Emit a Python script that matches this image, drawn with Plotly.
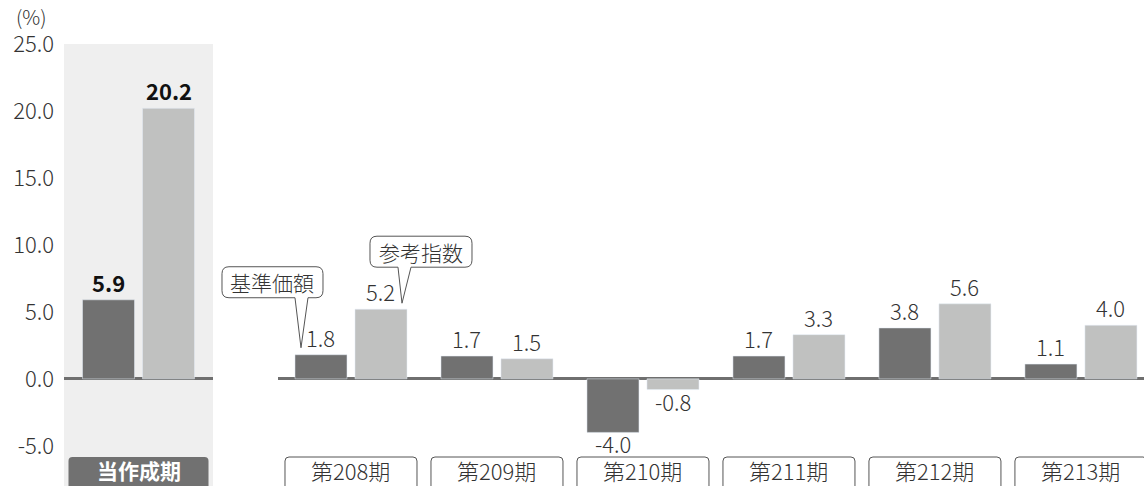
import plotly.graph_objects as go

# Fund return vs. reference index (%), current period and periods 208-213
current_label = ["当作成期"]
current_nav = [5.9]
current_index = [20.2]

periods = ["第208期", "第209期", "第210期", "第211期", "第212期", "第213期"]
nav_returns = [1.8, 1.7, -4.0, 1.7, 3.8, 1.1]
index_returns = [5.2, 1.5, -0.8, 3.3, 5.6, 4.0]

y_ticks = [-5, 0, 5, 10, 15, 20, 25]
series_names = ["基準価額", "参考指数"]

DARK = "#717171"
LIGHT = "#c0c1c0"
PANEL = "#efefef"
TEXT = "#333333"
FONT = "Noto Sans CJK JP"
W, H = 1144, 486

Y_RANGE = [-8, 25]
X1_DOMAIN, X1_RANGE = [64 / W, 213 / W], [-0.5103, 0.5103]
X2_DOMAIN, X2_RANGE = [278 / W, 1.0], [-0.5, 5.432]
BAR_OFFSET = 30  # px from group centre to each bar centre


def x_paper(domain, rng, pos):
    return domain[0] + (pos - rng[0]) / (rng[1] - rng[0]) * (domain[1] - domain[0])


def y_paper(v):
    return (v - Y_RANGE[0]) / (Y_RANGE[1] - Y_RANGE[0])


def fmt(v):
    return f"{v:.1f}"


fig = go.Figure()
fig.add_trace(go.Bar(x=current_label, y=current_nav, name=series_names[0],
                     marker_color=DARK, xaxis="x", yaxis="y"))
fig.add_trace(go.Bar(x=current_label, y=current_index, name=series_names[1],
                     marker_color=LIGHT, xaxis="x", yaxis="y"))
fig.add_trace(go.Bar(x=periods, y=nav_returns, name=series_names[0],
                     marker_color=DARK, xaxis="x2", yaxis="y2"))
fig.add_trace(go.Bar(x=periods, y=index_returns, name=series_names[1],
                     marker_color=LIGHT, xaxis="x2", yaxis="y2"))

shapes = []
annotations = []

# shaded background behind the current period
shapes.append(dict(type="rect", xref="x domain", yref="y domain",
                   x0=0, x1=1, y0=0, y1=1, fillcolor=PANEL,
                   line=dict(width=0), layer="below"))


def value_label(xref, cat, v, side, bold):
    txt = fmt(v)
    annotations.append(dict(
        x=cat, y=v, xref=xref, yref="y" if xref == "x" else "y2",
        xanchor="center", xshift=side * BAR_OFFSET, yshift=0 if v >= 0 else 7,
        yanchor="bottom" if v >= 0 else "top",
        text=f"<b>{txt}</b>" if bold else txt, showarrow=False,
        font=dict(family=FONT, size=22, color="#111111" if bold else TEXT,
                  weight=700 if bold else 300)))


for cat, a, b in zip(current_label, current_nav, current_index):
    value_label("x", cat, a, -1, True)
    value_label("x", cat, b, 1, True)
for cat, a, b in zip(periods, nav_returns, index_returns):
    value_label("x2", cat, a, -1, False)
    value_label("x2", cat, b, 1, False)


def rounded_path(x0, x1, yb, yt, r, pointer=None):
    """Rounded box in pixel offsets; optional pointer (base0, base1, tipx, tipy) on the bottom edge."""
    p = f"M{x0 + r},{yt} L{x1 - r},{yt} Q{x1},{yt} {x1},{yt - r} L{x1},{yb + r} Q{x1},{yb} {x1 - r},{yb} "
    if pointer:
        b0, b1, tx, ty = pointer
        p += f"L{b1},{yb} L{tx},{ty} L{b0},{yb} "
    p += f"L{x0 + r},{yb} Q{x0},{yb} {x0},{yb + r} L{x0},{yt - r} Q{x0},{yt} {x0 + r},{yt} Z"
    return p


def open_box_path(x0, x1, yb, yt, r):
    """Box with rounded top corners, open at the bottom edge."""
    return (f"M{x0},{yb} L{x0},{yt - r} Q{x0},{yt} {x0 + r},{yt} "
            f"L{x1 - r},{yt} Q{x1},{yt} {x1},{yt - r} L{x1},{yb}")


# category tag for the current period
cx0 = x_paper(X1_DOMAIN, X1_RANGE, 0)
shapes.append(dict(type="path", xref="paper", yref="paper", xsizemode="pixel", ysizemode="pixel",
                   xanchor=cx0, yanchor=0,
                   path=rounded_path(-70, 70, -10, 29, 4),
                   fillcolor=DARK, line=dict(width=0)))
annotations.append(dict(x=cx0, y=0, xref="paper", yref="paper", xanchor="center",
                        yshift=16, text=f"<b>{current_label[0]}</b>", showarrow=False,
                        yanchor="middle", font=dict(family=FONT, size=21, color="white")))

# category tags for past periods
for i, p in enumerate(periods):
    cx = x_paper(X2_DOMAIN, X2_RANGE, i)
    shapes.append(dict(type="path", xref="paper", yref="paper", xsizemode="pixel", ysizemode="pixel",
                       xanchor=cx, yanchor=0,
                       path=open_box_path(-66, 66, -10, 29, 4),
                       fillcolor="white", line=dict(color="#555555", width=1)))
    annotations.append(dict(x=cx, y=0, xref="paper", yref="paper", xanchor="center",
                            yshift=16, text=p, showarrow=False, yanchor="middle",
                            font=dict(family=FONT, size=22, color=TEXT, weight=300)))

# series callouts on the first past period
c0 = x_paper(X2_DOMAIN, X2_RANGE, 0)
callouts = [
    (series_names[0], nav_returns[0], (-129, -28, 57, 88), (-56, -43, -50, 7)),
    (series_names[1], index_returns[0], (19, 121, 42, 73), (47, 60, 51, 6)),
]
for name, v, (bx0, bx1, byb, byt), ptr in callouts:
    shapes.append(dict(type="path", xref="paper", yref="paper", xsizemode="pixel", ysizemode="pixel",
                       xanchor=c0, yanchor=y_paper(v),
                       path=rounded_path(bx0, bx1, byb, byt, 7, pointer=ptr),
                       fillcolor="white", line=dict(color="#555555", width=1)))
    annotations.append(dict(x=c0, y=y_paper(v), xref="paper", yref="paper", xanchor="center",
                            xshift=(bx0 + bx1) / 2, yshift=(byb + byt) / 2, text=name,
                            showarrow=False, yanchor="middle",
                            font=dict(family=FONT, size=21, color=TEXT, weight=300)))

# unit label
annotations.append(dict(x=0, y=1, xref="paper", yref="paper", xanchor="left", yanchor="middle",
                        xshift=14, yshift=28, text="(%)", showarrow=False,
                        font=dict(family=FONT, size=20, color=TEXT, weight=300)))

yaxis_common = dict(range=Y_RANGE, showgrid=False, zeroline=True,
                    zerolinecolor="#6f6f6f", zerolinewidth=3, fixedrange=True)

fig.update_layout(
    width=W, height=H,
    margin=dict(l=0, r=0, t=44, b=0, pad=0),
    paper_bgcolor="white", plot_bgcolor="rgba(0,0,0,0)",
    barmode="group", bargap=0.178, bargroupgap=0.1333,
    showlegend=False,
    font=dict(family=FONT, color=TEXT),
    xaxis=dict(domain=X1_DOMAIN, range=X1_RANGE, type="category",
               showticklabels=False, showgrid=False, zeroline=False, anchor="y"),
    xaxis2=dict(domain=X2_DOMAIN, range=X2_RANGE, type="category",
                showticklabels=False, showgrid=False, zeroline=False, anchor="y2"),
    yaxis=dict(**yaxis_common, anchor="x", tickvals=y_ticks, ticktext=[fmt(t) for t in y_ticks],
               ticks="", ticklabelstandoff=9,
               tickfont=dict(family=FONT, size=22, color=TEXT, weight=300)),
    yaxis2=dict(**yaxis_common, anchor="x2", matches="y", showticklabels=False),
    shapes=shapes,
    annotations=annotations,
)

fig.write_html("out.html")
